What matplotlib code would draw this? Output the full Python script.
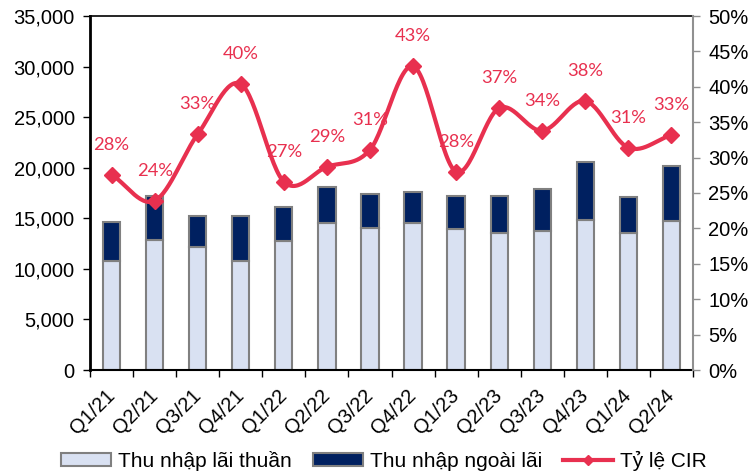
import numpy as np
import matplotlib
matplotlib.use("Agg")
import matplotlib.pyplot as plt
from matplotlib.ticker import FuncFormatter, MultipleLocator
from matplotlib.lines import Line2D
from matplotlib.patches import Patch

# ---- data ----
quarters = ["Q1/21", "Q2/21", "Q3/21", "Q4/21", "Q1/22", "Q2/22", "Q3/22",
            "Q4/22", "Q1/23", "Q2/23", "Q3/23", "Q4/23", "Q1/24", "Q2/24"]
thu_nhap_lai_thuan = [10800, 12900, 12200, 10800, 12800, 14550, 14050,
                      14500, 13900, 13500, 13750, 14800, 13500, 14750]
thu_nhap_ngoai_lai = [3800, 4300, 3000, 4400, 3350, 3500, 3400,
                      3100, 3300, 3700, 4100, 5750, 3600, 5450]
cir = [27.6, 23.9, 33.3, 40.4, 26.6, 28.7, 31.1,
       42.9, 28.0, 37.0, 33.8, 38.0, 31.4, 33.2]
cir_labels = ["28%", "24%", "33%", "40%", "27%", "29%", "31%",
              "43%", "28%", "37%", "34%", "38%", "31%", "33%"]

light = "#D9E1F2"
navy = "#002060"
red = "#E8304F"
edge = "#808080"

plt.rcParams['font.family'] = ['Liberation Sans', 'DejaVu Sans']

fig = plt.figure(figsize=(7.49, 4.74), dpi=100)
ax = fig.add_axes([90/749, 1-370/474, 603/749, 354/474])
ax2 = ax.twinx()

x = np.arange(len(quarters))
w = 0.4
ax.bar(x, thu_nhap_lai_thuan, w, color=light, edgecolor=edge, linewidth=1.5, zorder=2)
ax.bar(x, thu_nhap_ngoai_lai, w, bottom=thu_nhap_lai_thuan, color=navy,
       edgecolor=edge, linewidth=1.5, zorder=2)

ax.set_xlim(-0.5, len(quarters) - 0.5)
ax.set_ylim(0, 35000)
ax.yaxis.set_major_locator(MultipleLocator(5000))
ax.yaxis.set_major_formatter(FuncFormatter(lambda v, p: f"{int(v):,}"))
ax.tick_params(axis='y', labelsize=14.5, direction='out', length=5, width=1, colors='black', pad=6)

# x ticks at category boundaries, labels at centers
ax.set_xticks(np.arange(-0.5, len(quarters), 1.0))
ax.set_xticklabels([])
ax.set_xticks(x, minor=True)
ax.set_xticklabels(quarters, minor=True, rotation=45, ha='right', va='center',
                   rotation_mode='anchor', fontsize=14.5)
ax.tick_params(axis='x', which='major', direction='out', length=5, width=1)
ax.tick_params(axis='x', which='minor', length=0, pad=16)

for s in ['left', 'bottom', 'top']:
    ax.spines[s].set_color('black')
ax.spines['left'].set_linewidth(2)
ax.spines['bottom'].set_linewidth(1.5)
ax.spines['top'].set_linewidth(1.2)
ax.spines['right'].set_visible(False)

# Right axis
ax2.set_ylim(0, 50)
ax2.yaxis.set_major_locator(MultipleLocator(5))
ax2.yaxis.set_major_formatter(FuncFormatter(lambda v, p: f"{int(round(v))}%"))
ax2.tick_params(axis='y', labelsize=14.5, direction='out', length=5, width=1,
                color='#909090', labelcolor='black', pad=6)
ax2.spines['right'].set_color('#909090')
ax2.spines['right'].set_linewidth(1.5)
for s in ['left', 'bottom', 'top']:
    ax2.spines[s].set_visible(False)

# smooth (Catmull-Rom) curve through the CIR points
def catmull_rom(px, py, n=30):
    px = np.asarray(px, float); py = np.asarray(py, float)
    P = np.column_stack([px, py])
    P = np.vstack([2*P[0]-P[1], P, 2*P[-1]-P[-2]])
    out = []
    t = np.linspace(0, 1, n, endpoint=False)
    for i in range(1, len(P)-2):
        p0, p1, p2, p3 = P[i-1], P[i], P[i+1], P[i+2]
        m1 = (p2 - p0) / 2
        m2 = (p3 - p1) / 2
        h00 = 2*t**3 - 3*t**2 + 1
        h10 = t**3 - 2*t**2 + t
        h01 = -2*t**3 + 3*t**2
        h11 = t**3 - t**2
        seg = (h00[:, None]*p1 + h10[:, None]*m1 + h01[:, None]*p2 + h11[:, None]*m2)
        out.append(seg)
    out.append(P[-2][None, :])
    out = np.vstack(out)
    return out[:, 0], out[:, 1]

sx, sy = catmull_rom(x, cir)
ax2.plot(sx, sy, color=red, linewidth=3, zorder=3, solid_capstyle='round')
ax2.plot(x, cir, linestyle='none', marker='D', markersize=8.5, color=red, zorder=4)

for xi, yi, lab in zip(x, cir, cir_labels):
    ax2.annotate(lab, (xi, yi), xytext=(0, 21.5), textcoords='offset points',
                 ha='center', va='center', color=red, fontsize=13.2,
                 family=['Lato', 'DejaVu Sans'])

# legend
handles = [Patch(facecolor=light, edgecolor=edge, linewidth=1.5),
           Patch(facecolor=navy, edgecolor=edge, linewidth=1.5),
           Line2D([0], [0], color=red, linewidth=3, marker='D', markersize=5)]
labels = ["Thu nhập lãi thuần", "Thu nhập ngoài lãi", "Tỷ lệ CIR"]
fig.legend(handles, labels, loc='center', bbox_to_anchor=(384/749, 1-461/474),
           ncol=3, frameon=False, fontsize=15, handlelength=2.4, handleheight=0.6,
           handletextpad=0.35, columnspacing=1.0, borderpad=0, borderaxespad=0)

fig.savefig("out.png", dpi=100)
